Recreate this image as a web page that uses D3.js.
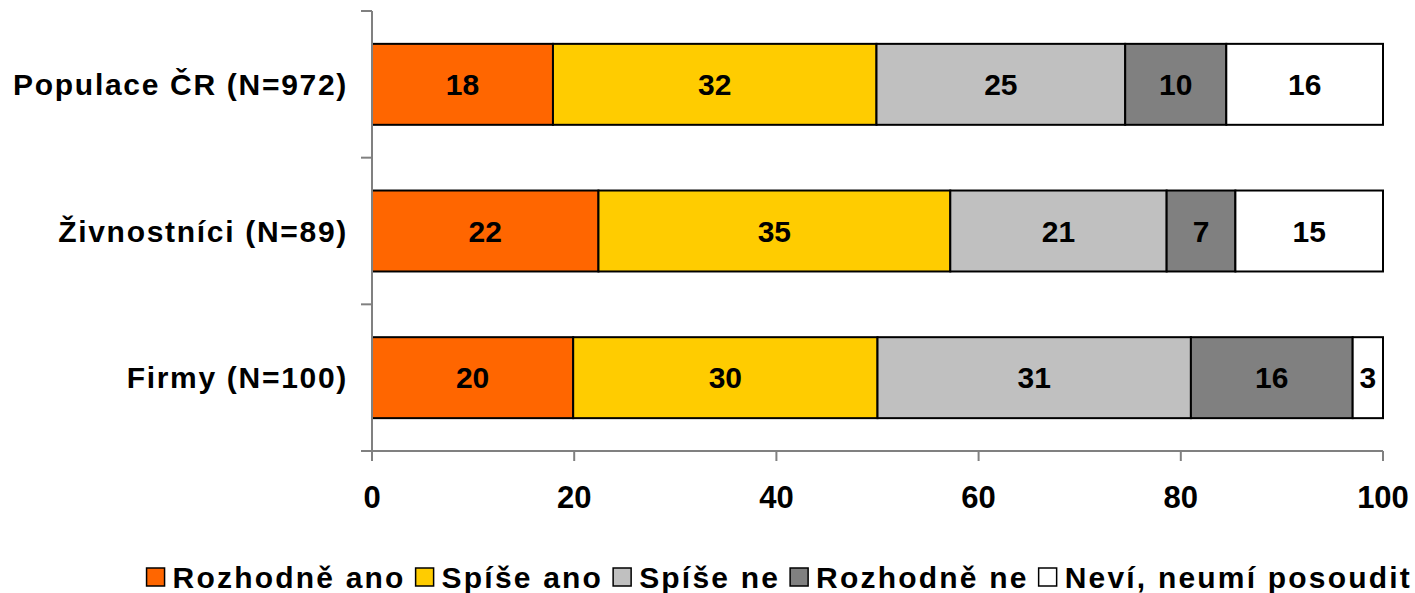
<!DOCTYPE html>
<html>
<head>
<meta charset="utf-8">
<script src="https://cdn.jsdelivr.net/npm/d3@7"></script>
<style>
  html, body { margin: 0; padding: 0; background: #fff; }
  svg { display: block; font-family: "Liberation Sans", Arial, sans-serif; font-weight: bold; }
</style>
</head>
<body>
<svg id="chart" width="1415" height="593"></svg>
<script>
// ---- data ----
const categories = ["Populace ČR (N=972)", "Živnostníci (N=89)", "Firmy (N=100)"];
const seriesNames = ["Rozhodně ano", "Spíše ano", "Spíše ne", "Rozhodně ne", "Neví, neumí posoudit"];
const seriesColors = ["#FF6600", "#FFCC00", "#C0C0C0", "#808080", "#FFFFFF"];
const rozhodneAno = [17.9, 22.4, 19.9];
const spiseAno    = [32.0, 34.8, 30.1];
const spiseNe     = [24.6, 21.4, 31.0];
const rozhodneNe  = [10.0, 6.8, 16.0];
const nevi        = [15.5, 14.6, 3.0];
const xTicks = [0, 20, 40, 60, 80, 100];

const seriesValues = [rozhodneAno, spiseAno, spiseNe, rozhodneNe, nevi];

const svg = d3.select("#chart");
const pLeft = 372, pRight = 1383, pTop = 11, pBottom = 451;

const x = d3.scaleLinear().domain([0, 100]).range([pLeft, pRight]);
const y = d3.scaleBand().domain(categories).range([pTop, pBottom]).paddingInner(0.448).paddingOuter(0.224);

// build stacked table
const table = categories.map((c, i) => {
  const row = { cat: c };
  seriesNames.forEach((s, j) => row[s] = seriesValues[j][i]);
  return row;
});
const stack = d3.stack().keys(seriesNames)(table);

const axisColor = "#808080";

// bars
stack.forEach((layer, j) => {
  const g = svg.append("g");
  g.selectAll("rect").data(layer).enter().append("rect")
    .attr("x", d => x(d[0]))
    .attr("y", d => y(d.data.cat))
    .attr("width", d => x(d[1]) - x(d[0]))
    .attr("height", y.bandwidth())
    .attr("fill", seriesColors[j])
    .attr("stroke", "#000")
    .attr("stroke-width", 2);
  g.selectAll("text").data(layer).enter().append("text")
    .attr("x", d => (x(d[0]) + x(d[1])) / 2)
    .attr("y", d => y(d.data.cat) + y.bandwidth() / 2)
    .attr("dy", "0.36em")
    .attr("text-anchor", "middle")
    .attr("font-size", 30)
    .attr("fill", "#000")
    .text(d => Math.round(d[1] - d[0]));
});

// y axis
svg.append("line").attr("x1", pLeft).attr("x2", pLeft).attr("y1", pTop).attr("y2", pBottom)
  .attr("stroke", axisColor).attr("stroke-width", 2);
const boundaries = d3.range(categories.length + 1).map(i => pTop + i * (pBottom - pTop) / categories.length);
svg.append("g").selectAll("line").data(boundaries).enter().append("line")
  .attr("x1", pLeft - 11).attr("x2", pLeft).attr("y1", d => d).attr("y2", d => d)
  .attr("stroke", axisColor).attr("stroke-width", 2);

// category labels
svg.append("g").selectAll("text").data(categories).enter().append("text")
  .attr("x", 348)
  .attr("y", d => y(d) + y.bandwidth() / 2)
  .attr("dy", "0.36em")
  .attr("text-anchor", "end")
  .attr("font-size", 30)
  .attr("letter-spacing", 1.7)
  .attr("fill", "#000")
  .text(d => d);

// x axis
svg.append("line").attr("x1", pLeft).attr("x2", pRight).attr("y1", pBottom).attr("y2", pBottom)
  .attr("stroke", axisColor).attr("stroke-width", 2);
svg.append("g").selectAll("line").data(xTicks).enter().append("line")
  .attr("x1", d => x(d)).attr("x2", d => x(d)).attr("y1", pBottom).attr("y2", pBottom + 10)
  .attr("stroke", axisColor).attr("stroke-width", 2);
svg.append("g").selectAll("text").data(xTicks).enter().append("text")
  .attr("x", d => x(d)).attr("y", 508)
  .attr("text-anchor", "middle")
  .attr("font-size", 31)
  .attr("fill", "#000")
  .text(d => d);

// legend
const legend = svg.append("g");
const items = seriesNames.map((s, j) => {
  const g = legend.append("g");
  g.append("rect").attr("x", 0).attr("y", -20).attr("width", 18).attr("height", 18)
    .attr("fill", seriesColors[j]).attr("stroke", "#000").attr("stroke-width", 1.5);
  const t = g.append("text").attr("x", 26).attr("y", 0).attr("font-size", 30).attr("letter-spacing", 2.2)
    .attr("fill", "#000").text(s);
  return { g, w: 26 + t.node().getComputedTextLength() };
});
const gap = 10;
const total = d3.sum(items, d => d.w) + gap * (items.length - 1);
let cx = 1412 - total;
items.forEach(it => { it.g.attr("transform", `translate(${cx},588)`); cx += it.w + gap; });
</script>
</body>
</html>
